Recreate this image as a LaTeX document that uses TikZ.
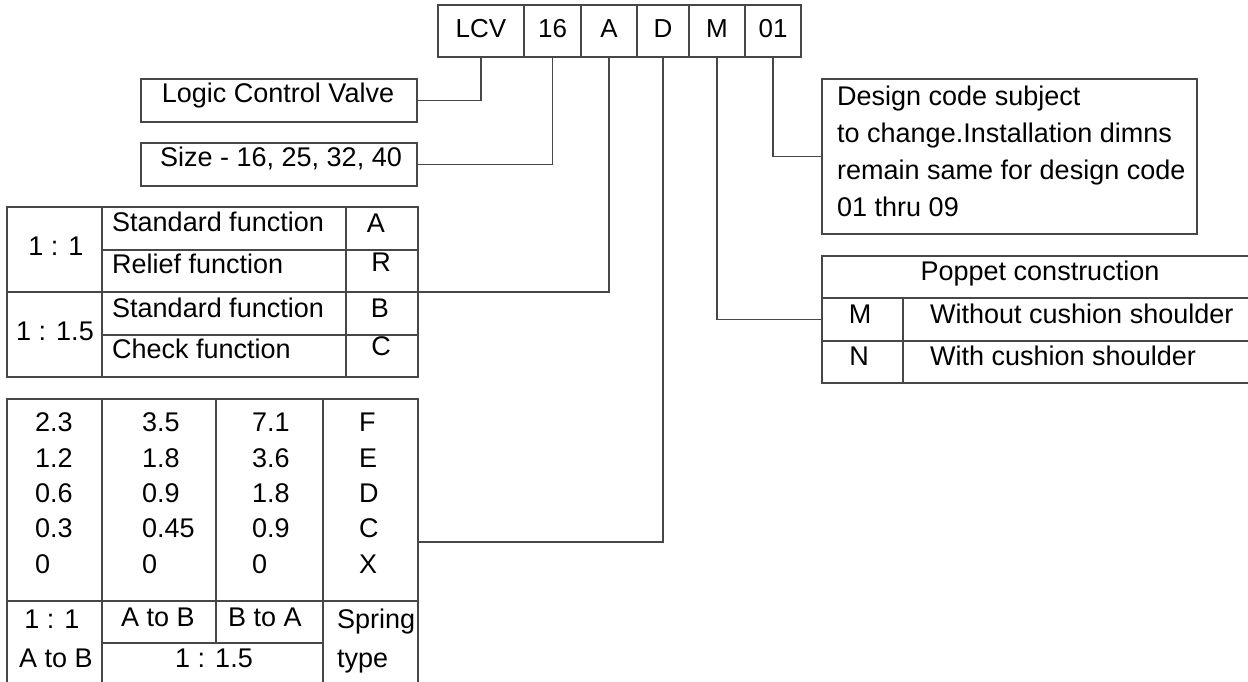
\documentclass[tikz,border=0pt]{standalone}
\usepackage{fontspec}
\setmainfont{Liberation Sans}
\begin{document}
\begin{tikzpicture}[x=1pt,y=-1pt,
  ln/.style={draw=black!72, line width=1.2pt},
  box/.style={ln, inner sep=0pt, anchor=center},
  code/.style={box, minimum height=52, text height=19pt, text depth=6pt, font=\fontsize{26}{30}\selectfont},
  txt/.style={inner sep=0pt, anchor=base, font=\fontsize{27}{32}\selectfont},
  txtl/.style={txt, anchor=base west}]
\useasboundingbox (0,0) rectangle (1248,681);
\fill[white] (0,0) rectangle (1248,681);
\clip (0,0) rectangle (1248,681);

% code boxes
\node[code, minimum width=86] (sLCV) at (481,31) {LCV};
\node[code, minimum width=57] (s16) at (552.5,31) {16};
\node[code, minimum width=56] (sA) at (609,31) {A};
\node[code, minimum width=52] (sD) at (663,31) {D};
\node[code, minimum width=56] (sM) at (717,31) {M};
\node[code, minimum width=56] (s01) at (773,31) {01};

% name boxes
\node[box, minimum width=276, minimum height=43] (logic) at (279,100.5) {};
\node[txt] (tlogic) at (278,102) {Logic Control Valve};
\node[box, minimum width=276, minimum height=43] (size) at (279,164.5) {};
\node[txt] (tsize) at (281,166) {Size - 16, 25, 32, 40};

% design box
\node[box, minimum width=375, minimum height=155] (design) at (1009.5,156.5) {};
\node[txtl] (d1) at (837,105.5) {Design code subject};
\node[txtl] (d2) at (837,142) {to change.Installation dimns};
\node[txtl] (d3) at (837,179) {remain same for design code};
\node[txtl] (d4) at (837,216) {01 thru 09};

% poppet table
\node[box, minimum width=440, minimum height=127] (poppet) at (1042,319.5) {};
\draw[ln] (822,298) -- (1262,298);
\draw[ln] (822,341) -- (1262,341);
\draw[ln] (903,298) -- (903,383);
\node[txt] (pc) at (1040,280) {Poppet construction};
\node[txt] (pm) at (860,323) {M};
\node[txtl] (pm2) at (930,323) {Without cushion shoulder};
\node[txt] (pn) at (859,365) {N};
\node[txtl] (pn2) at (930,365) {With cushion shoulder};

% function table
\node[box, minimum width=411, minimum height=170] (tabA) at (212.5,292) {};
\draw[ln] (102,207) -- (102,377);
\draw[ln] (346,207) -- (346,377);
\draw[ln] (7,292) -- (418,292);
\draw[ln] (102,250) -- (418,250);
\draw[ln] (102,335) -- (418,335);
\node[txt] (r11) at (56,255) {1 : 1};
\node[txt] (r115) at (55,340) {1 : 1.5};
\node[txtl] (f1) at (112,231) {Standard function};
\node[txtl] (f2) at (112,273) {Relief function};
\node[txtl] (f3) at (112,317) {Standard function};
\node[txtl] (f4) at (112,358) {Check function};
\node[txt] (lA) at (376,232) {A};
\node[txt] (lR) at (381,271) {R};
\node[txt] (lB) at (380,317) {B};
\node[txt] (lC) at (381,355) {C};

% spring table
\node[box, minimum width=411, minimum height=286] (tabB) at (212.5,542) {};
\draw[ln] (102,399) -- (102,690);
\draw[ln] (216,399) -- (216,643);
\draw[ln] (323,399) -- (323,690);
\draw[ln] (7,601) -- (418,601);
\draw[ln] (102,643) -- (323,643);
\foreach \a/\b/\c/\d/\y [count=\i] in {2.3/3.5/7.1/F/431, 1.2/1.8/3.6/E/467, 0.6/0.9/1.8/D/502, 0.3/0.45/0.9/C/537, 0/0/0/X/573}{
  \node[txtl] (ca\i) at (35,\y) {\a};
  \node[txtl] (cb\i) at (142,\y) {\b};
  \node[txtl] (cc\i) at (252,\y) {\c};
  \node[txtl] (cd\i) at (359,\y) {\d};
}
\node[txt] (b1) at (52,628) {1 : 1};
\node[txt] (b2) at (56,667) {A to B};
\node[txt] (b3) at (158,626) {A to B};
\node[txt] (b4) at (265,626) {B to A};
\node[txt] (b5) at (214,667) {1 : 1.5};
\node[txtl] (b6) at (337,628) {Spring};
\node[txtl] (b7) at (337,667) {type};

% connectors
\draw[ln] (sLCV.south) |- (logic.east);
\draw[ln] (s16.south) |- (size.east);
\draw[ln] (sA.south) |- (tabA.east);
\draw[ln] (sD.south) |- (tabB.east);
\draw[ln] (sM.south) |- (poppet.west);
\draw[ln] (s01.south) |- (design.west);
\end{tikzpicture}
\end{document}
